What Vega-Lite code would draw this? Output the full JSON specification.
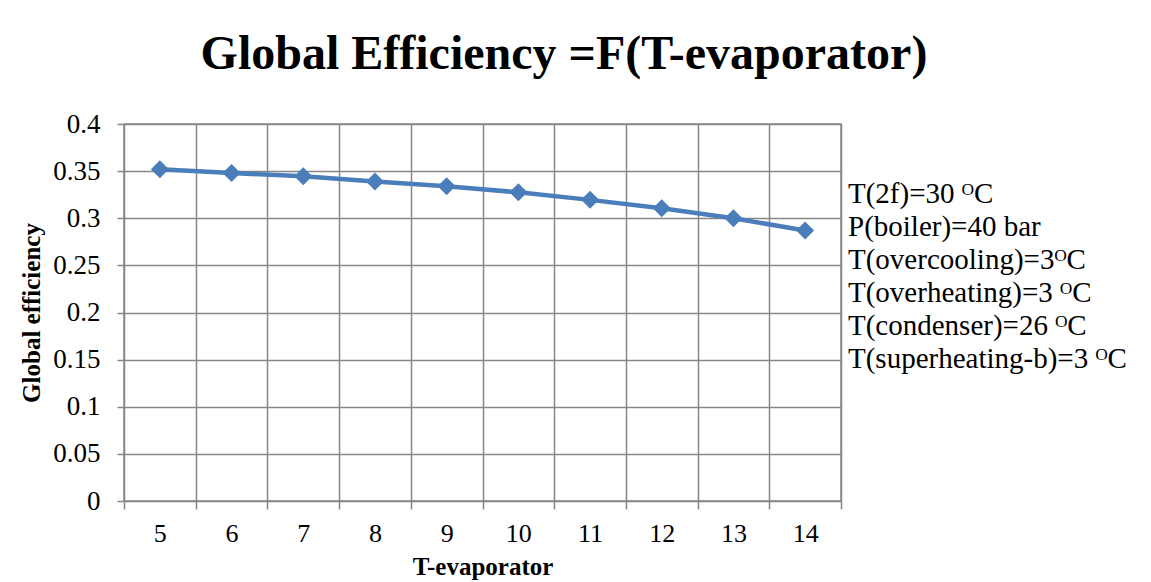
{
  "$schema": "https://vega.github.io/schema/vega-lite/v6.json",
  "autosize": {"type": "pad"},
  "padding": {"left": 19, "top": 31, "right": 0, "bottom": 0},
  "background": "white",
  "title": {
    "text": "Global Efficiency =F(T-evaporator)",
    "font": "Liberation Serif",
    "fontSize": 48,
    "fontWeight": "bold",
    "color": "black",
    "anchor": "middle",
    "offset": 30,
    "dx": -9
  },
  "spacing": 5,
  "hconcat": [
    {
      "width": 717,
      "height": 377,
      "view": {"stroke": "#878787", "strokeWidth": 1.5},
      "data": {
        "values": [
          {"t": 5, "eff": 0.352},
          {"t": 6, "eff": 0.348},
          {"t": 7, "eff": 0.3445},
          {"t": 8, "eff": 0.339},
          {"t": 9, "eff": 0.334},
          {"t": 10, "eff": 0.3275},
          {"t": 11, "eff": 0.3195},
          {"t": 12, "eff": 0.3105},
          {"t": 13, "eff": 0.300},
          {"t": 14, "eff": 0.287}
        ]
      },
      "encoding": {
        "y": {
          "field": "eff",
          "type": "quantitative",
          "scale": {"domain": [0, 0.4], "nice": false, "zero": true},
          "axis": {
            "values": [0, 0.05, 0.1, 0.15, 0.2, 0.25, 0.3, 0.35, 0.4],
            "format": "~g",
            "grid": true,
            "gridColor": "#878787",
            "gridWidth": 1.5,
            "gridOpacity": 1,
            "domain": false,
            "tickColor": "#878787",
            "tickWidth": 1.5,
            "tickSize": 7,
            "labelFont": "Liberation Serif",
            "labelFontSize": 27,
            "labelColor": "black",
            "labelPadding": 17,
            "title": "Global efficiency",
            "titleFont": "Liberation Serif",
            "titleFontSize": 25,
            "titleFontWeight": "bold",
            "titleColor": "black",
            "titlePadding": 8
          }
        }
      },
      "layer": [
        {
          "mark": {"type": "point", "opacity": 0},
          "encoding": {
            "x": {
              "field": "t",
              "type": "quantitative",
              "scale": {"domain": [4.5, 14.5], "nice": false, "zero": false},
              "axis": {
                "orient": "bottom",
                "values": [4.5, 5.5, 6.5, 7.5, 8.5, 9.5, 10.5, 11.5, 12.5, 13.5, 14.5],
                "grid": true,
                "gridColor": "#878787",
                "gridWidth": 1.5,
                "gridOpacity": 1,
                "labels": false,
                "domain": false,
                "ticks": true,
                "tickColor": "#878787",
                "tickWidth": 1.5,
                "tickSize": 8,
                "title": null
              }
            }
          }
        },
        {
          "mark": {"type": "line", "color": "#4a7ebb", "strokeWidth": 4.5},
          "encoding": {
            "x": {
              "field": "t",
              "type": "quantitative",
              "scale": {"domain": [4.5, 14.5], "nice": false, "zero": false},
              "axis": {
                "orient": "bottom",
                "values": [5, 6, 7, 8, 9, 10, 11, 12, 13, 14],
                "grid": false,
                "ticks": false,
                "domain": false,
                "labelFont": "Liberation Serif",
                "labelFontSize": 26,
                "labelColor": "black",
                "labelPadding": 19,
                "title": "T-evaporator",
                "titleFont": "Liberation Serif",
                "titleFontSize": 25,
                "titleFontWeight": "bold",
                "titleColor": "black",
                "titlePadding": 8
              }
            }
          }
        },
        {
          "mark": {"type": "point", "shape": "diamond", "filled": true, "size": 324, "color": "#4a7ebb", "opacity": 1},
          "encoding": {
            "x": {"field": "t", "type": "quantitative", "scale": {"domain": [4.5, 14.5], "nice": false, "zero": false}, "axis": null}
          }
        }
      ],
      "resolve": {"axis": {"x": "independent"}}
    },
    {
      "width": 254,
      "height": 377,
      "view": {"stroke": null},
      "data": {
        "values": [
          {"line": 1, "pos": 0, "note": "T(2f)=30 ᴼC"},
          {"line": 2, "pos": 0, "note": "P(boiler)=40 bar"},
          {"line": 3, "pos": 0, "note": "T(overcooling)=3ᴼC"},
          {"line": 4, "pos": 0, "note": "T(overheating)=3 ᴼC"},
          {"line": 5, "pos": 0, "note": "T(condenser)=26 ᴼC"},
          {"line": 6, "pos": 0, "note": "T(superheating-b)=3 ᴼC"}
        ]
      },
      "mark": {
        "type": "text",
        "align": "left",
        "baseline": "alphabetic",
        "font": "Liberation Serif",
        "fontSize": 29,
        "color": "black"
      },
      "encoding": {
        "x": {"field": "pos", "type": "quantitative", "scale": {"domain": [0, 1], "nice": false}, "axis": null},
        "y": {"field": "line", "type": "quantitative", "scale": {"domain": [-1.4, 10.02], "reverse": true, "nice": false, "zero": false}, "axis": null},
        "text": {"field": "note"}
      }
    }
  ]
}
